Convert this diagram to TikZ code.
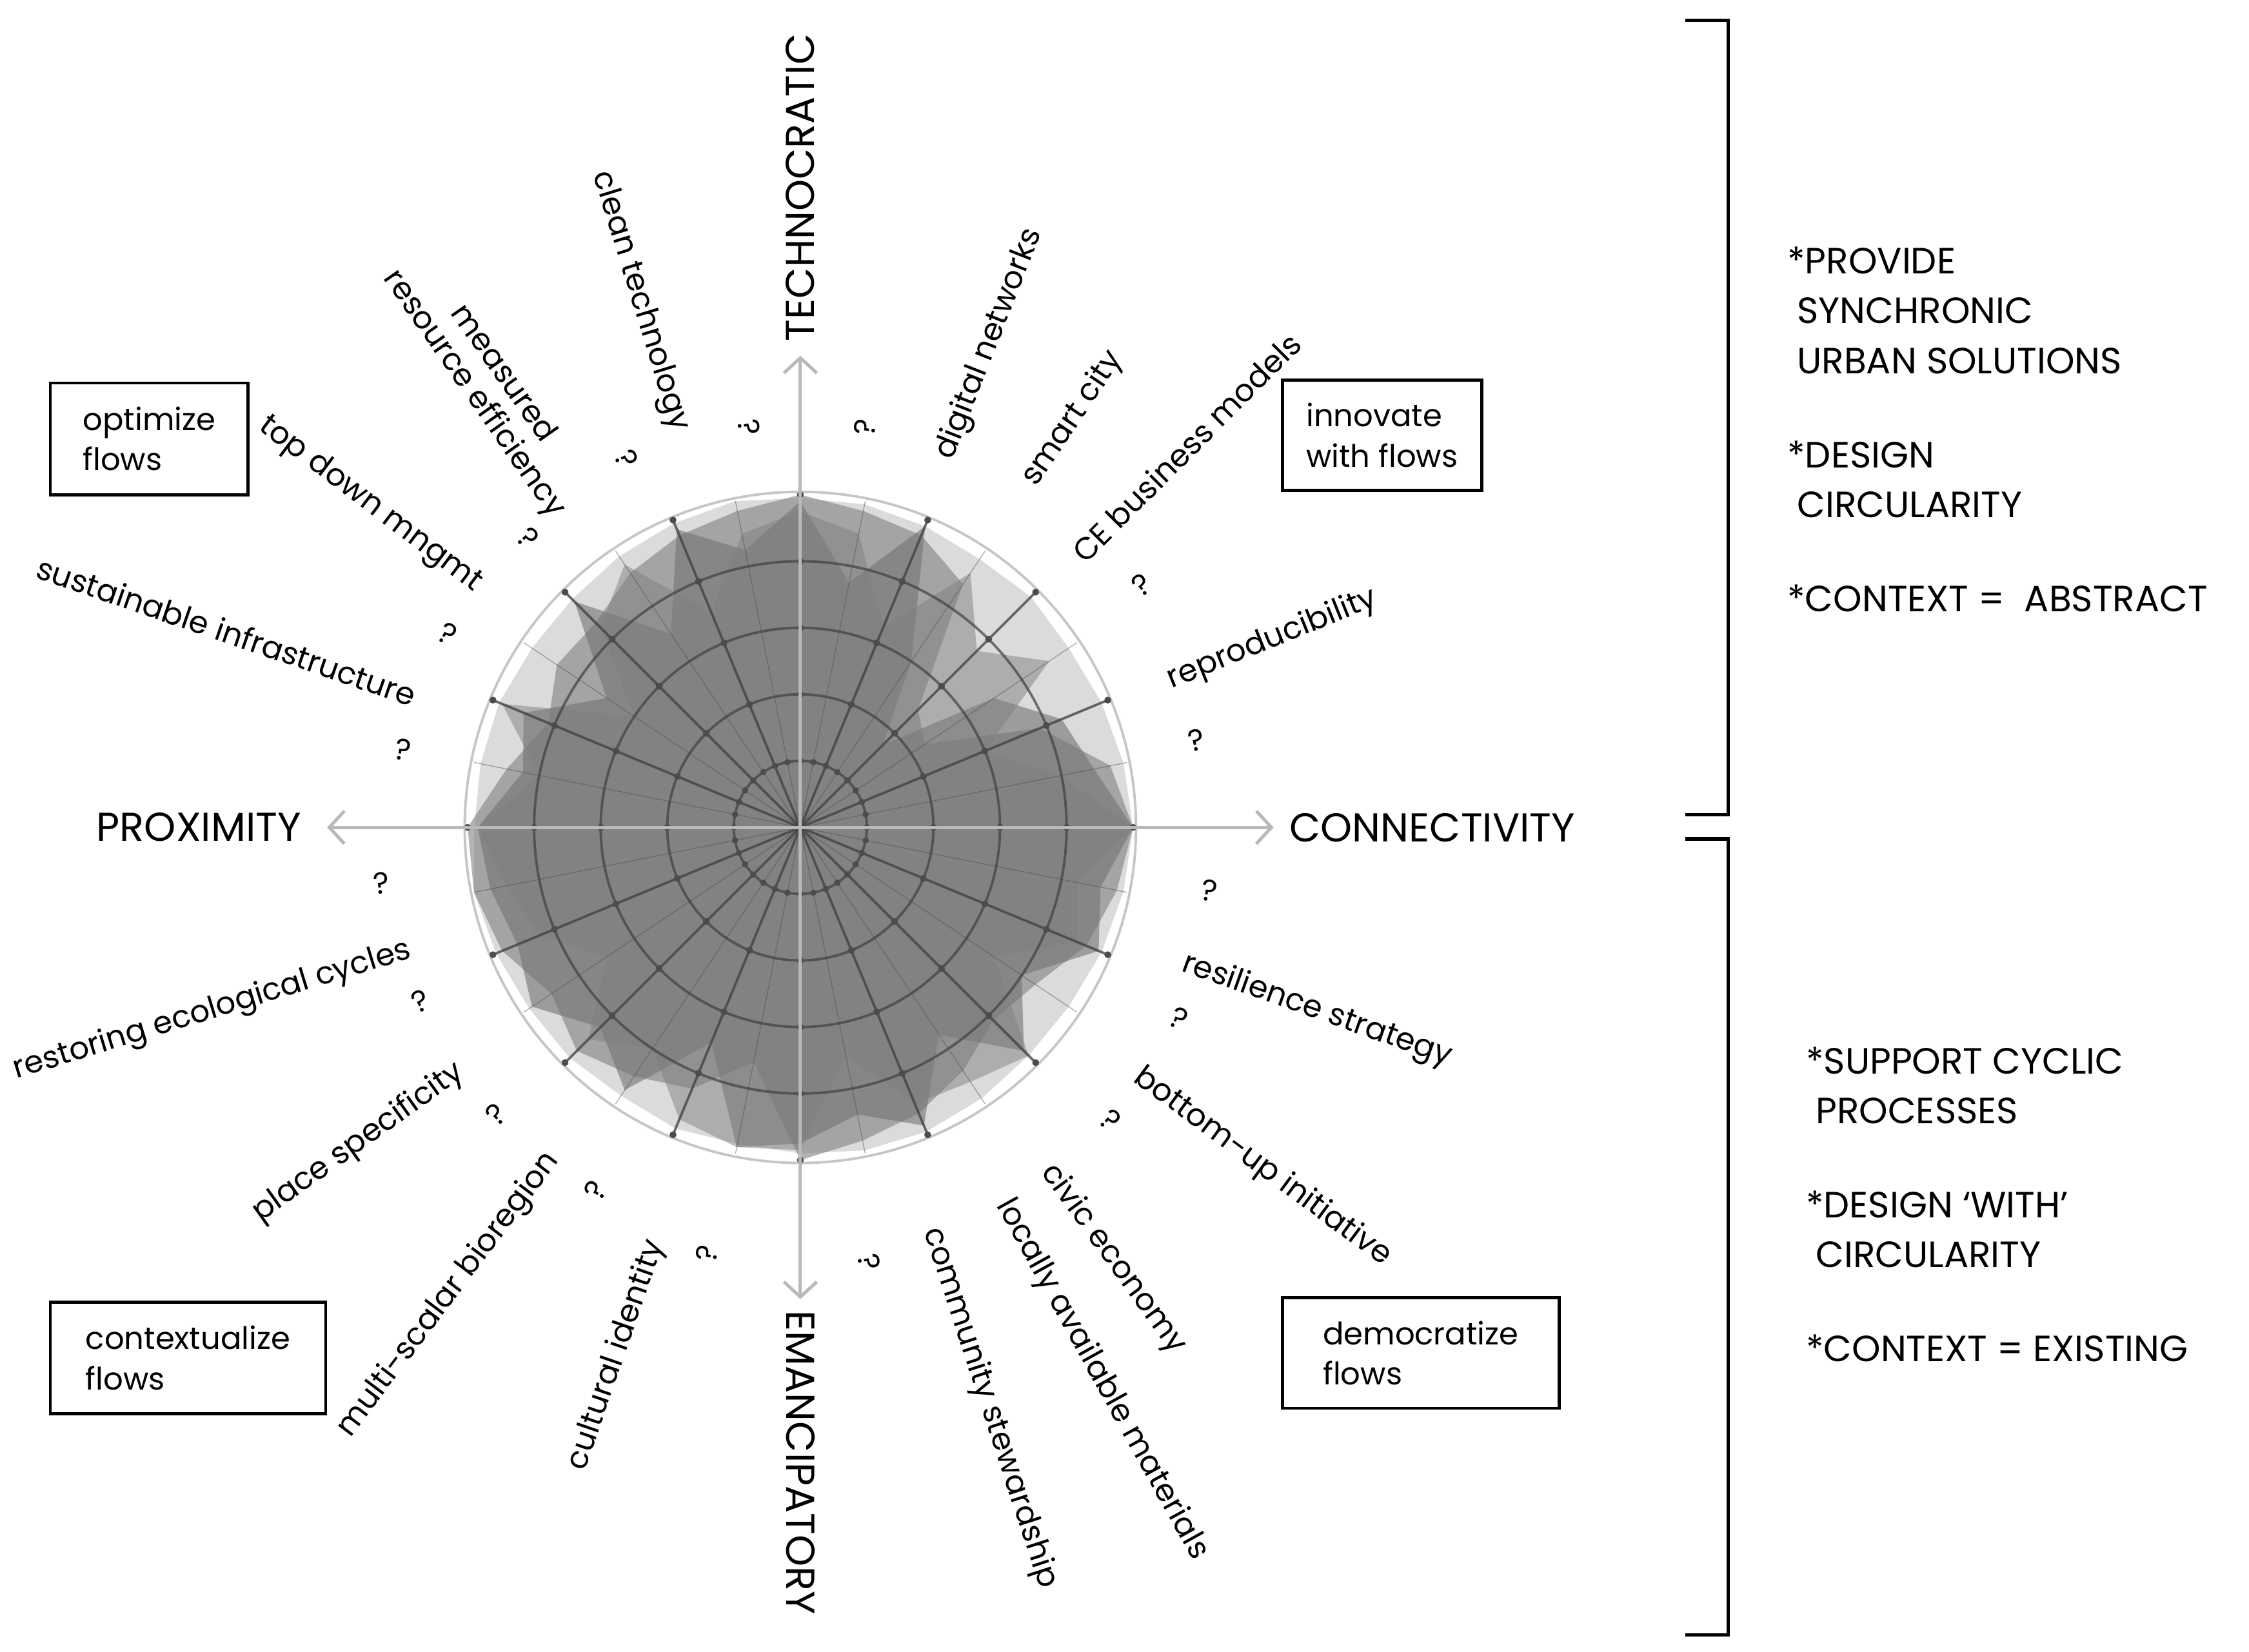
\documentclass[tikz,border=0pt]{standalone}
\usepackage{fontspec}
\setmainfont{Poppins}
\usetikzlibrary{positioning,arrows.meta}

\tikzset{
  lbl/.style={font=\fontsize{12.3}{14}\selectfont, inner sep=1pt},
  axlbl/.style={font=\fontsize{16}{18}\selectfont, inner sep=1pt},
  qmark/.style={font=\fontsize{12}{14}\selectfont, inner sep=0pt},
  flowbox/.style={draw, line width=1.2pt, align=left, font=\fontsize{12.3}{16}\selectfont,
                  inner xsep=7pt, inner ysep=5pt, anchor=north west},
  axis/.style={gray!55, line width=1.3pt, -{Straight Barb[length=6pt,width=13pt]}},
  spoke/.style={black!75, opacity=0.7, line width=1pt},
  thinspoke/.style={black!70, opacity=0.5, line width=0.3pt},
  ring/.style={black!75, opacity=0.7, line width=1pt},
  bracket/.style={line width=1.3pt},
  note/.style={align=left, anchor=north west, font=\fontsize{14.5}{19.8}\selectfont},
}

\begin{document}
\begin{tikzpicture}[x=0.02cm, y=-0.02cm]
\useasboundingbox (0,0) rectangle (1568,1152);

% radar chart
\begin{scope}[shift={(558,577)}, yscale=-1]
  \coordinate (c) at (0,0);
  \fill[gray!28] (0:232) \foreach \r [count=\i] in {.99,.98,.97,.98,.97,.98,.99,.99,1,.99,.98,.97,.97,.98,.98,.98,1,.99,.98,.98,.97,.98,.97,.98,.99,.99,.98,.97,.97,.98,.99}
    { -- ({\i*11.25}:{\r*232}) } -- cycle;
  \fill[black!50, opacity=0.6] (0:232) \foreach \r [count=\i] in {.95,.78,.45,.5,.88,.95,.97,1,.97,.95,.92,.87,.88,.82,.9,1,1,.97,.9,.95,.9,.85,.72,1,.96,.93,.88,.82,.85,.93,.97}
    { -- ({\i*11.25}:{\r*232}) } -- cycle;
  \fill[black!55, opacity=0.6] (0:232) \foreach \r [count=\i] in {.9,.85,.7,.35,.6,.98,.75,.98,.85,.97,.7,.96,.7,.9,.85,.97,.95,.92,.97,.85,.95,.7,.98,.95,.88,.97,.75,.95,.8,.97,.92}
    { -- ({\i*11.25}:{\r*232}) } -- cycle;
  \fill[black!50, opacity=0.5] (0:232) \foreach \r [count=\i] in {.8,.6,.9,.75,.92,.65,.9,.95,.9,.7,.95,.85,.6,.97,.8,.97,.9,.85,.7,.9,.8,.95,.98,.97,.7,.9,.92,.97,.7,.9,.85}
    { -- ({\i*11.25}:{\r*232}) } -- cycle;
  \draw[gray!45, line width=1pt] (c) circle (234);
  \foreach \a in {0,11.25,...,349} \draw[thinspoke] (c) -- (\a:232);
  \foreach \a in {0,22.5,...,349} \draw[spoke] (c) -- (\a:232);
  \foreach \k in {1,...,4} \draw[ring] (c) circle ({\k*46.4});
  \foreach \a in {0,22.5,...,349} {
    \foreach \k in {2,...,5} \fill[black!70] (\a:{\k*46.4}) circle (2.4);
  }
  \foreach \a in {0,11.25,...,349} \fill[black!70] (\a:46.4) circle (2.2);
\end{scope}

% axes
\coordinate (top) at (558,248);
\coordinate (bot) at (558,906);
\coordinate (lft) at (228,577);
\coordinate (rgt) at (888,577);
\draw[axis] (c) -- (top);
\draw[axis] (c) -- (bot);
\draw[axis] (c) -- (lft);
\draw[axis] (c) -- (rgt);
\node[axlbl, rotate=90, anchor=west] (techno) at (558,240) {TECHNOCRATIC};
\node[axlbl, rotate=-90, anchor=west] (emanc) at (558,912) {EMANCIPATORY};
\node[axlbl, anchor=east] (prox) at (212,577) {PROXIMITY};
\node[axlbl, anchor=west] (conn) at (897,577) {CONNECTIVITY};

% labels
\node[lbl, rotate=-73] (cleantech) at (446,210) {clean technology};
\node[lbl, rotate=-55, align=center] (measured) at (340,268) {measured\\resource efficiency};
\node[lbl, rotate=-37] (topdown) at (258,352) {top down mngmt};
\node[lbl, rotate=-19] (sustinf) at (158,440) {sustainable infrastructure};
\node[lbl, rotate=68.6] (dignet) at (690,240) {digital networks};
\node[lbl, rotate=56] (smartcity) at (748,292) {smart city};
\node[lbl, rotate=45] (cebiz) at (827,312) {CE business models};
\node[lbl, rotate=22] (reprod) at (887,446) {reproducibility};
\node[lbl, rotate=-19.6] (resil) at (918,705) {resilience strategy};
\node[lbl, rotate=-36.5] (bottomup) at (880,814) {bottom-up initiative};
\node[lbl, rotate=-54] (civic) at (776,878) {civic economy};
\node[lbl, rotate=-61] (locmat) at (768,962) {locally available materials};
\node[lbl, rotate=-72] (commstew) at (690,982) {community stewardship};
\node[lbl, rotate=71] (cultid) at (430,945) {cultural identity};
\node[lbl, rotate=53] (multisc) at (313,903) {multi-scalar bioregion};
\node[lbl, rotate=35.5] (placespec) at (250,797) {place specificity};
\node[lbl, rotate=17] (restor) at (148,705) {restoring ecological cycles};

% question marks
\foreach \px/\py [count=\n] in {522/298,603/298,437/320,368/375,312/442,281/523,796/408,834/516,843/621,822/710,774/781,266/616,293/698,346/777,415/830,493/874,606/880} {
  \pgfmathsetmacro\ang{atan2(577-\py,\px-558)}
  \pgfmathsetmacro\rot{\px<558 ? \ang-180 : \ang}
  \node[qmark, rotate=\rot] (q\n) at (\px,\py) {?};
}

% boxes
\node[flowbox, minimum width=2.76cm, minimum height=1.56cm] (optim) at (34,266) {optimize\\flows};
\node[flowbox, minimum width=2.78cm, minimum height=1.54cm] (innov) at (893,264) {innovate\\with flows};
\node[flowbox, minimum width=3.84cm, minimum height=1.56cm] (context) at (34,907) {contextualize\\flows};
\node[flowbox, minimum width=3.86cm, minimum height=1.54cm] (democ) at (893,904) {democratize\\flows};

% brackets
\coordinate (b1a) at (1175,14);
\coordinate (b1b) at (1205,14);
\coordinate (b1c) at (1205,568);
\coordinate (b1d) at (1175,568);
\draw[bracket] (b1a) -- (b1b) -- (b1c) -- (b1d);
\coordinate (b2a) at (1175,585);
\coordinate (b2b) at (1205,585);
\coordinate (b2c) at (1205,1140);
\coordinate (b2d) at (1175,1140);
\draw[bracket] (b2a) -- (b2b) -- (b2c) -- (b2d);

\node[note] (noteup) at (1240,166) {*PROVIDE\\\ SYNCHRONIC\\\ URBAN SOLUTIONS\\[17.5pt]*DESIGN\\\ CIRCULARITY\\[17.5pt]*CONTEXT =\ \ ABSTRACT};
\node[note] (notedn) at (1253,724) {*SUPPORT CYCLIC\\\ PROCESSES\\[17.5pt]*DESIGN ‘WITH’\\\ CIRCULARITY\\[17.5pt]*CONTEXT = EXISTING};
\end{tikzpicture}
\end{document}
